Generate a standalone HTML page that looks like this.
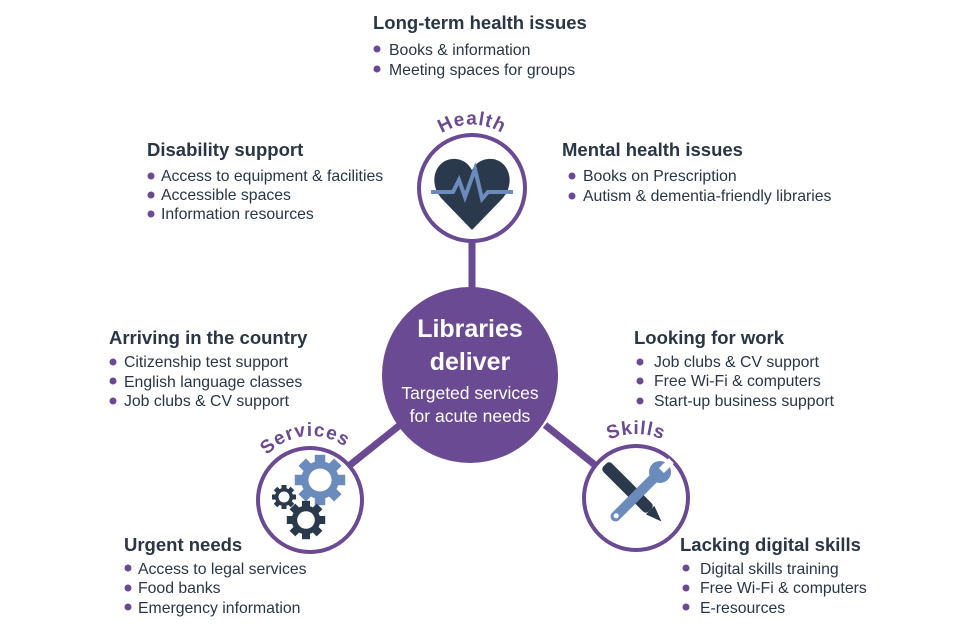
<!DOCTYPE html>
<html><head><meta charset="utf-8"><style>
html,body{margin:0;padding:0;background:#fff;width:960px;height:640px;overflow:hidden}
svg{display:block}
.h{font:bold 18.5px "Liberation Sans",sans-serif;fill:#2a3546}
.b{font:15.8px "Liberation Sans",sans-serif;fill:#2a3546}
.d{fill:#6a4a93}
.l{font:bold 19px 'Liberation Sans',sans-serif;fill:#6a4a93;letter-spacing:1px}
</style></head><body>
<svg width="960" height="640" viewBox="0 0 960 640" xmlns="http://www.w3.org/2000/svg">
<defs>
<path id="ah" d="M417,170 A56,56 0 0 1 527,170"/>
<path id="as" d="M252,492 A59,59 0 0 1 368,480"/>
<path id="ak" d="M570,500 A66,66 0 0 1 702,500"/>
<g id="cog"><circle r="18" fill="currentColor"/>
<g fill="currentColor"><rect x="-5" y="-24" width="10" height="10"/><rect x="-5" y="-24" width="10" height="10" transform="rotate(45)"/><rect x="-5" y="-24" width="10" height="10" transform="rotate(90)"/><rect x="-5" y="-24" width="10" height="10" transform="rotate(135)"/><rect x="-5" y="-24" width="10" height="10" transform="rotate(180)"/><rect x="-5" y="-24" width="10" height="10" transform="rotate(225)"/><rect x="-5" y="-24" width="10" height="10" transform="rotate(270)"/><rect x="-5" y="-24" width="10" height="10" transform="rotate(315)"/></g>
<circle r="11" fill="#fff"/></g>
</defs>
<g stroke="#6a4a93" stroke-width="7">
<line x1="472" y1="240" x2="472" y2="290"/>
<line x1="400" y1="425" x2="350" y2="465"/>
<line x1="545" y1="425" x2="595" y2="465"/>
</g>
<circle cx="470" cy="375" r="88" fill="#6a4a93"/>
<text x="470" y="337" text-anchor="middle" style="font:bold 25px 'Liberation Sans',sans-serif;fill:#fff">Libraries</text>
<text x="470" y="370" text-anchor="middle" style="font:bold 25px 'Liberation Sans',sans-serif;fill:#fff">deliver</text>
<text x="470" y="399" text-anchor="middle" style="font:17.5px 'Liberation Sans',sans-serif;fill:#fff">Targeted services</text>
<text x="470" y="422" text-anchor="middle" style="font:17.5px 'Liberation Sans',sans-serif;fill:#fff">for acute needs</text>
<circle cx="472" cy="188" r="53" fill="#fff" stroke="#6a4a93" stroke-width="4"/>
<path d="M472,230 L443,200 C426,183 436,157 456,159 C465,160 469,165 472,170 C475,165 479,160 488,159 C508,157 518,183 501,200 Z" fill="#2a3a4c"/>
<polyline points="431,192 453,192 459,180 465,197 475,169 482,199 488,192 513,192" fill="none" stroke="#6b8bbd" stroke-width="4"/>
<text class="l"><textPath href="#ah" startOffset="50%" text-anchor="middle">Health</textPath></text>
<circle cx="310" cy="500" r="52" fill="#fff" stroke="#6a4a93" stroke-width="4"/>
<g color="#6b8bbd" transform="translate(320,480) scale(1.05)"><use href="#cog"/></g>
<g color="#2a3a4c" transform="translate(284,497) scale(0.5)"><use href="#cog"/></g>
<g color="#2a3a4c" transform="translate(306,520) scale(0.8)"><use href="#cog"/></g>
<text class="l"><textPath href="#as" startOffset="50%" text-anchor="middle">Services</textPath></text>
<circle cx="636" cy="498" r="52" fill="#fff" stroke="#6a4a93" stroke-width="4"/>
<g transform="translate(636,496) rotate(-45)"><rect x="-6" y="-44" width="12" height="64" rx="4" fill="#2a3a4c"/><path d="M-6,20 L6,20 L0,36 Z" fill="#2a3a4c"/></g>
<g transform="translate(636,496) rotate(45)"><rect x="-5" y="-30" width="10" height="64" rx="5" fill="#6b8bbd"/><circle cx="0" cy="-34" r="11" fill="#6b8bbd"/><rect x="-3.5" y="-50" width="7" height="14" fill="#fff"/><circle cx="0" cy="28" r="2.5" fill="#fff"/></g>
<text class="l"><textPath href="#ak" startOffset="50%" text-anchor="middle">Skills</textPath></text>
<text class="h" x="373" y="29">Long-term health issues</text>
<circle class="d" cx="377" cy="49" r="3.5"/><text class="b" x="389" y="55">Books &amp; information</text>
<circle class="d" cx="377" cy="69" r="3.5"/><text class="b" x="389" y="75">Meeting spaces for groups</text>
<text class="h" x="147" y="156">Disability support</text>
<circle class="d" cx="151" cy="176" r="3.5"/><text class="b" x="161" y="181">Access to equipment &amp; facilities</text>
<circle class="d" cx="151" cy="195" r="3.5"/><text class="b" x="161" y="200">Accessible spaces</text>
<circle class="d" cx="151" cy="214" r="3.5"/><text class="b" x="161" y="219">Information resources</text>
<text class="h" x="562" y="156">Mental health issues</text>
<circle class="d" cx="572" cy="176" r="3.5"/><text class="b" x="583" y="181">Books on Prescription</text>
<circle class="d" cx="572" cy="196" r="3.5"/><text class="b" x="583" y="201">Autism &amp; dementia-friendly libraries</text>
<text class="h" x="109" y="344">Arriving in the country</text>
<circle class="d" cx="113" cy="362" r="3.5"/><text class="b" x="124" y="367">Citizenship test support</text>
<circle class="d" cx="113" cy="381" r="3.5"/><text class="b" x="124" y="387">English language classes</text>
<circle class="d" cx="113" cy="401" r="3.5"/><text class="b" x="124" y="406">Job clubs &amp; CV support</text>
<text class="h" x="634" y="344">Looking for work</text>
<circle class="d" cx="640" cy="362" r="3.5"/><text class="b" x="654" y="367">Job clubs &amp; CV support</text>
<circle class="d" cx="640" cy="381" r="3.5"/><text class="b" x="654" y="386">Free Wi-Fi &amp; computers</text>
<circle class="d" cx="640" cy="401" r="3.5"/><text class="b" x="654" y="406">Start-up business support</text>
<text class="h" x="124" y="551">Urgent needs</text>
<circle class="d" cx="128" cy="568" r="3.5"/><text class="b" x="138" y="574">Access to legal services</text>
<circle class="d" cx="128" cy="588" r="3.5"/><text class="b" x="138" y="593">Food banks</text>
<circle class="d" cx="128" cy="607" r="3.5"/><text class="b" x="138" y="613">Emergency information</text>
<text class="h" x="680" y="551">Lacking digital skills</text>
<circle class="d" cx="686" cy="568" r="3.5"/><text class="b" x="700" y="574">Digital skills training</text>
<circle class="d" cx="686" cy="588" r="3.5"/><text class="b" x="700" y="593">Free Wi-Fi &amp; computers</text>
<circle class="d" cx="686" cy="607" r="3.5"/><text class="b" x="700" y="613">E-resources</text>
</svg>
</body></html>
